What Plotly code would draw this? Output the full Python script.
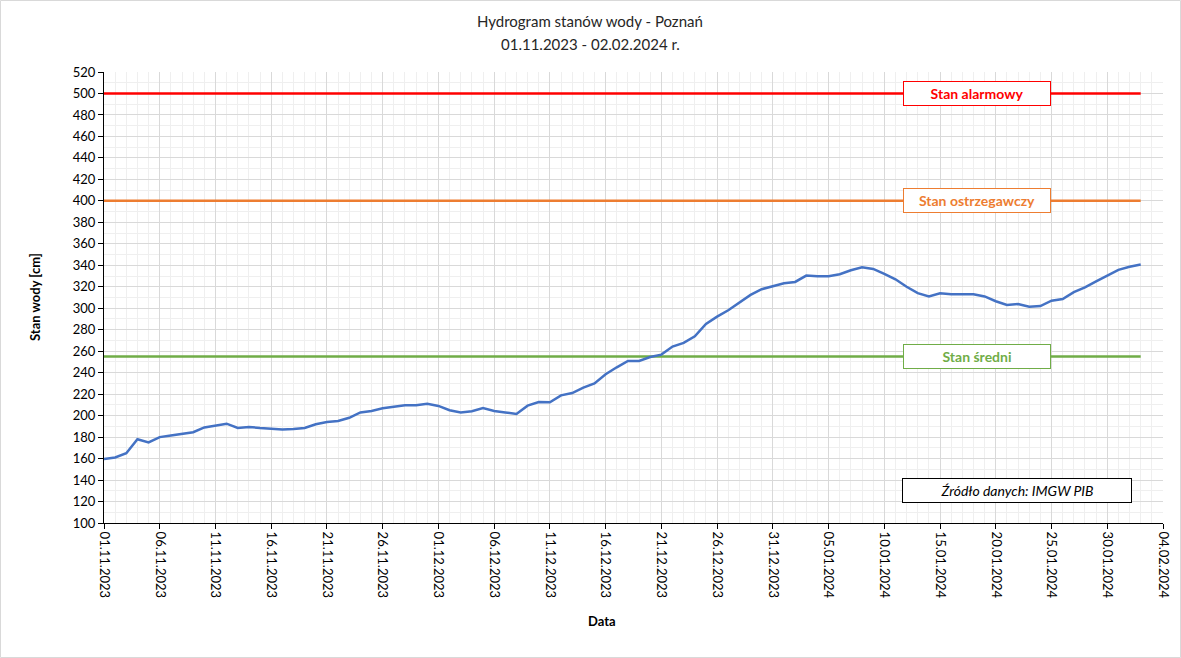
import pandas as pd
import plotly.graph_objects as go

start_date = "2023-11-01"
levels = [159.5, 161, 165, 178, 175, 180, 181.5, 183, 184.5, 189,
          191, 192.5, 188.5, 189.5, 188.5, 187.5, 187, 187.5, 188.5, 192,
          194, 195, 198, 203, 204.3, 206.8, 208.3, 209.6, 209.6, 211,
          209, 205, 203, 204, 207, 204.3, 203, 201.5, 209.3, 212.7,
          212.4, 218.9, 221, 226, 230, 238.5, 245, 250.9, 250.9, 254.6,
          256.8, 264.3, 267.7, 273.9, 285.4, 292.2, 298.1, 305, 312.4, 317.7,
          320.5, 323.3, 324.5, 330.4, 329.8, 329.8, 331.7, 335.4, 338.2, 336.6,
          332, 327, 320, 314, 311, 314, 313, 312.8, 313, 311,
          306.5, 303, 304, 301.5, 302, 307, 308.5, 315, 319.4, 325,
          330.5, 335.8, 338.6, 340.8]
dates = pd.date_range(start_date, periods=len(levels), freq="D")

alarm_level = 500
warning_level = 400
mean_level = 255
thresholds = [("Stan alarmowy", alarm_level, "#FF0000"),
              ("Stan ostrzegawczy", warning_level, "#ED7D31"),
              ("Stan średni", mean_level, "#70AD47")]

title_lines = ["Hydrogram stanów wody - Poznań", "01.11.2023 - 02.02.2024 r."]
source_text = "Źródło danych: IMGW PIB"
x_title = "Data"
y_title = "Stan wody [cm]"

FONT = "Lato"
L, R, T, B = 104, 18, 72, 135
PW, PH = 1181 - L - R, 658 - T - B


def px_x(p):
    return (p - L) / PW


def px_y(p):
    return (658 - B - p) / PH


fig = go.Figure()
for name, lvl, col in thresholds:
    fig.add_trace(go.Scatter(x=dates, y=[lvl] * len(dates), mode="lines",
                             line=dict(color=col, width=2.5), name=name,
                             hoverinfo="skip"))
fig.add_trace(go.Scatter(x=dates, y=levels, mode="lines",
                         line=dict(color="#4472C4", width=2.5), name="Stan wody"))

for name, lvl, col in thresholds:
    fig.add_annotation(x=px_x(977), xref="paper", y=lvl, yref="y",
                       xanchor="center", yanchor="middle",
                       text="<b>%s</b>" % name,
                       showarrow=False, font=dict(family=FONT, size=14, color=col),
                       bgcolor="white", bordercolor=col, borderwidth=1,
                       width=144, height=21, borderpad=1)
fig.add_annotation(x=px_x(1017), xref="paper", y=px_y(490), yref="paper",
                   xanchor="center", yanchor="middle",
                   text="<i>%s</i>" % source_text, showarrow=False,
                   font=dict(family=FONT, size=14, color="black"),
                   bgcolor="white", bordercolor="black", borderwidth=1,
                   width=226, height=21, borderpad=1)

# titles
for txt, yp in zip(title_lines, [21, 44]):
    fig.add_annotation(x=px_x(590), xref="paper", y=px_y(yp), yref="paper",
                       xanchor="center", yanchor="middle",
                       text=txt, showarrow=False,
                       font=dict(family=FONT, size=15, color="#262626"))

# axis titles
fig.add_annotation(x=px_x(602), xref="paper", y=px_y(621), yref="paper",
                   xanchor="center", yanchor="middle",
                   text="<b>%s</b>" % x_title, showarrow=False,
                   font=dict(family=FONT, size=13, color="black"))
fig.add_annotation(x=px_x(35), xref="paper", y=px_y(297), yref="paper",
                   xanchor="center", yanchor="middle", textangle=-90,
                   text="<b>%s</b>" % y_title, showarrow=False,
                   font=dict(family=FONT, size=13, color="black"))

# outer border
fig.add_shape(type="rect", xref="paper", yref="paper",
              x0=px_x(0.5), x1=px_x(1180.5), y0=px_y(657.5), y1=px_y(0.5),
              line=dict(color="#D9D9D9", width=1))

fig.update_layout(
    width=1181, height=658,
    margin=dict(l=L, r=R, t=T, b=B, autoexpand=False),
    plot_bgcolor="white", paper_bgcolor="white",
    showlegend=False,
    font=dict(family=FONT, size=13, color="#262626"),
)
fig.update_xaxes(
    type="date", range=["2023-11-01", "2024-02-04"],
    tick0="2023-11-01", dtick=5 * 86400000, tickformat="%d.%m.%Y",
    tickangle=90, ticks="outside", ticklen=5, tickcolor="black",
    showline=True, linecolor="black", linewidth=1,
    showgrid=True, gridcolor="#D9D9D9", gridwidth=1,
    minor=dict(dtick=86400000, showgrid=True, gridcolor="#EFEFEF", gridwidth=1),
    zeroline=False, automargin=False,
    tickfont=dict(family=FONT, size=13, color="black"),
)
fig.update_yaxes(
    range=[100, 520], dtick=20, tick0=100,
    ticks="outside", ticklen=5, tickcolor="black",
    showline=True, linecolor="black", linewidth=1,
    showgrid=True, gridcolor="#D9D9D9", gridwidth=1,
    minor=dict(dtick=10, showgrid=True, gridcolor="#EFEFEF", gridwidth=1),
    zeroline=False, automargin=False,
    tickfont=dict(family=FONT, size=13, color="black"),
)

fig.write_html("out.html")
